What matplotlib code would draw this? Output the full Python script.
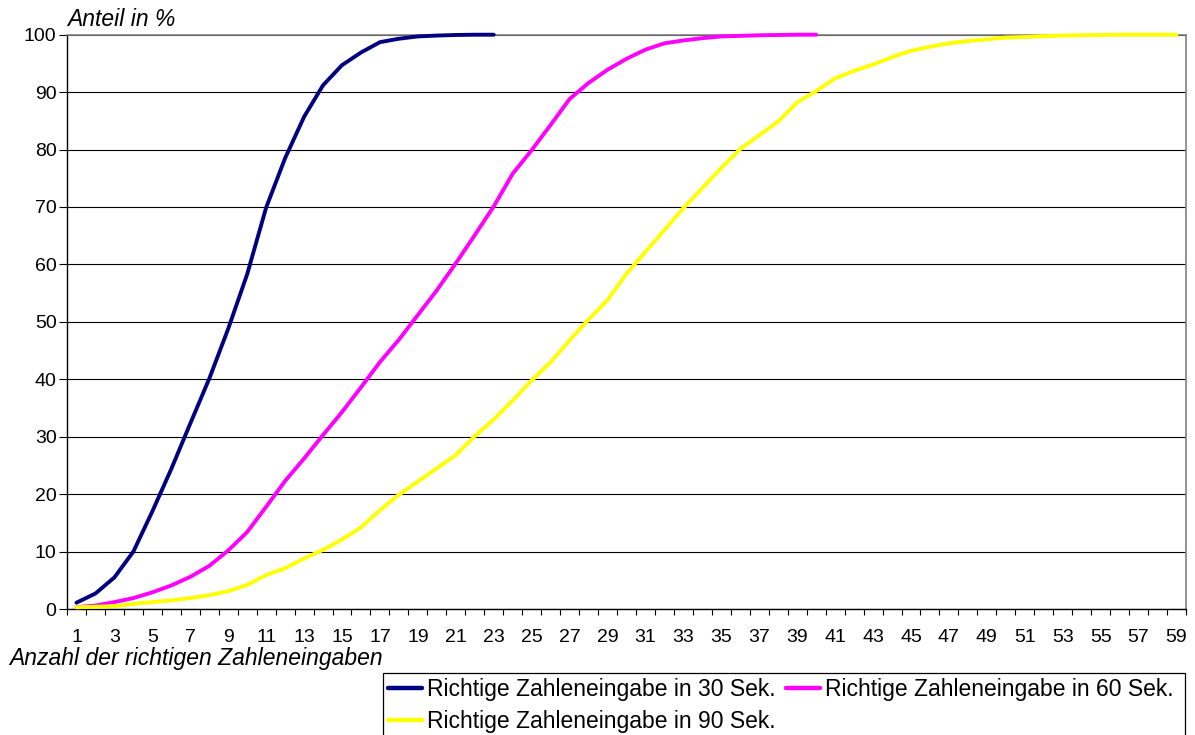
# coding=utf-8
# Kumulierte Anteile der richtigen Zahleneingaben (30 / 60 / 90 Sek.)
import numpy as np
import matplotlib
matplotlib.use("Agg")
import matplotlib.pyplot as plt
from matplotlib.patches import Rectangle

plt.rcParams['font.family'] = ['Liberation Sans', 'DejaVu Sans']

# Daten
sek30 = [1.1, 2.7, 5.5, 10.0, 17.0, 24.4, 32.3, 40.1, 48.8, 58.3,
         69.9, 78.5, 85.7, 91.2, 94.7, 96.9, 98.7, 99.3, 99.7, 99.85,
         99.95, 100, 100]
sek60 = [0.3, 0.6, 1.2, 1.9, 2.9, 4.1, 5.6, 7.5, 10.2, 13.4,
         17.8, 22.3, 26.2, 30.3, 34.3, 38.6, 43.0, 46.9, 51.2, 55.5,
         60.2, 65.1, 70.1, 75.8, 79.9, 84.3, 88.8, 91.6, 93.9, 95.8,
         97.4, 98.5, 99.0, 99.4, 99.7, 99.8, 99.9, 99.95, 100, 100]
sek90 = [0.3, 0.4, 0.5, 0.9, 1.2, 1.5, 1.9, 2.4, 3.1, 4.2,
         5.9, 7.1, 8.8, 10.3, 12.1, 14.2, 17.2, 19.9, 22.2, 24.5,
         26.8, 30.1, 33.0, 36.3, 39.8, 43.0, 46.8, 50.4, 53.8, 58.4,
         62.2, 66.0, 69.8, 73.3, 76.8, 80.1, 82.5, 84.9, 88.2, 90.2,
         92.4, 93.7, 94.8, 96.1, 97.2, 97.9, 98.5, 98.9, 99.2, 99.5,
         99.6, 99.75, 99.85, 99.9, 99.95, 100, 100, 100, 100]
kategorien = np.arange(1, 60)
namen = ['Richtige Zahleneingabe in 30 Sek.',
         'Richtige Zahleneingabe in 60 Sek.',
         'Richtige Zahleneingabe in 90 Sek.']
farben = ['#000080', '#FF00FF', '#FFFF00']

W, H = 1195, 735
fig = plt.figure(figsize=(W / 100, H / 100), dpi=100)
ax = fig.add_axes([67 / W, 1 - 609 / H, (1186 - 67) / W, (609 - 34.7) / H])

linien = []
for daten, name, farbe in zip([sek30, sek60, sek90], namen, farben):
    l, = ax.plot(kategorien[:len(daten)], daten, color=farbe, lw=2.8,
                 solid_capstyle='round', solid_joinstyle='round',
                 clip_on=False, label=name, zorder=3)
    linien.append(l)

ax.set_xlim(0.5, 59.5)
ax.set_ylim(0, 100)
ax.set_yticks(np.arange(0, 101, 10))
ax.set_xticks(kategorien[::2])
ax.set_xticks(np.arange(0.5, 60, 1), minor=True)
ax.tick_params(axis='y', direction='out', length=5.5, width=0.8, pad=2,
               labelsize=14, colors='black')
ax.tick_params(axis='x', which='major', length=0, pad=14.5, labelsize=14)
ax.tick_params(axis='x', which='minor', direction='out', length=4, width=0.8)
ax.yaxis.grid(True, color='black', lw=0.8)
ax.set_axisbelow(True)
for s in ['top', 'right']:
    ax.spines[s].set_color('#808080')
    ax.spines[s].set_linewidth(1.2)
for s in ['left', 'bottom']:
    ax.spines[s].set_color('black')
    ax.spines[s].set_linewidth(1.0)

fig.text(67 / W, 1 - 20 / H, 'Anteil in %', fontsize=16.5, style='italic',
         va='center', ha='left')
fig.text(9 / W, 1 - 659 / H, 'Anzahl der richtigen Zahleneingaben',
         fontsize=16.5, style='italic', va='center', ha='left')

# Legende mit Rahmen (unten abgeschnitten wie im Original)
fig.patches.append(Rectangle((383 / W, 1 - 760 / H), (1185 - 383) / W,
                             (760 - 672.7) / H, transform=fig.transFigure,
                             fill=False, edgecolor='black', lw=0.9))
leg = fig.legend([linien[0], linien[2], linien[1]],
                 [namen[0], namen[2], namen[1]], ncol=2,
                 loc='upper left', bbox_to_anchor=(383 / W, 1 - 673 / H),
                 frameon=False, fontsize=16.5, handlelength=1.5,
                 handletextpad=0.22, columnspacing=0.45, borderpad=0.2,
                 labelspacing=0.42, borderaxespad=0)
for l in leg.get_lines():
    l.set_linewidth(3.2)

plt.savefig('out.png', dpi=100)
